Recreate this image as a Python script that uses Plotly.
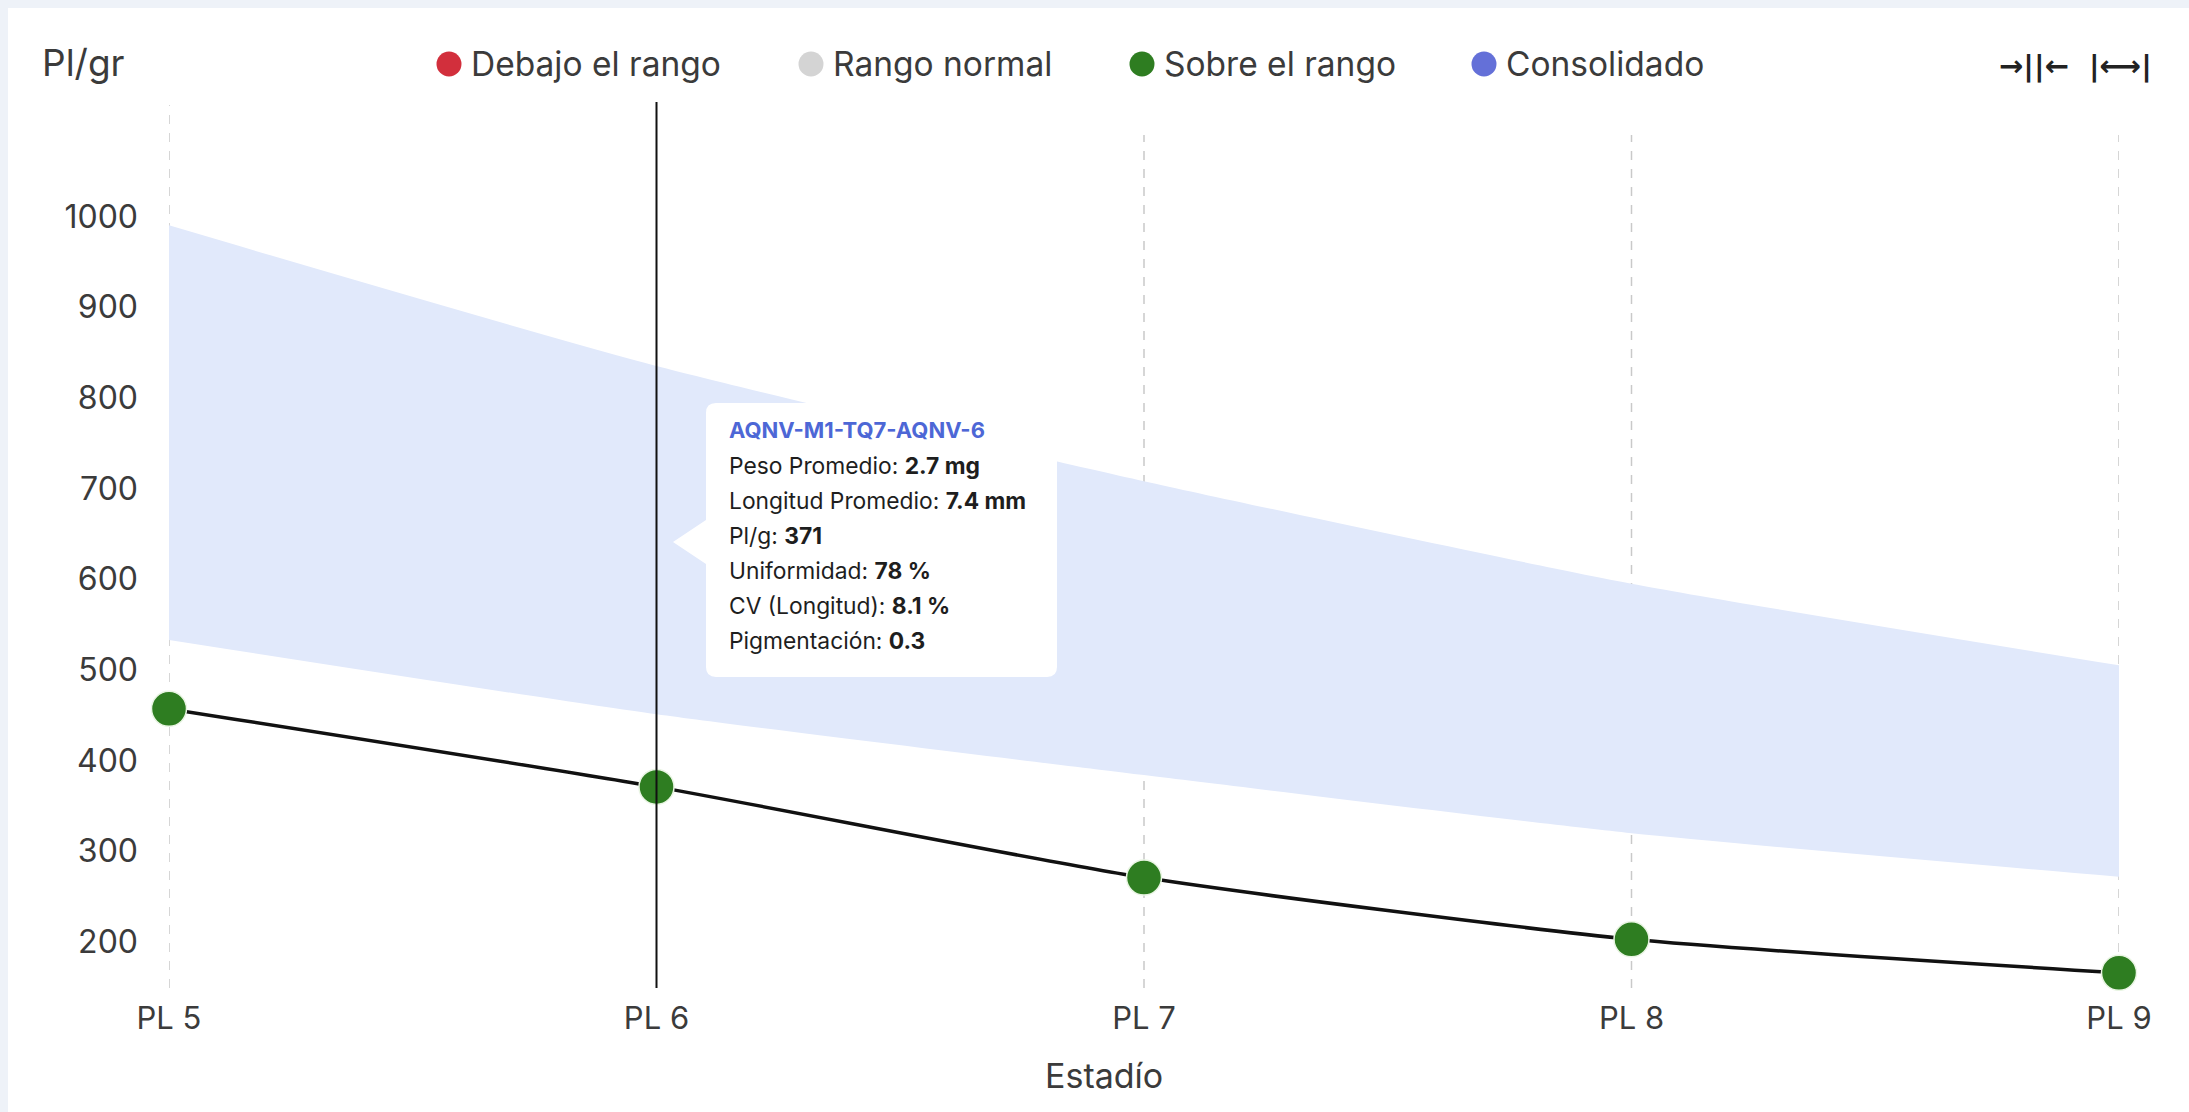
import plotly.graph_objects as go

# ---- data ----
stages = ["PL 5", "PL 6", "PL 7", "PL 8", "PL 9"]
pl_per_gram = [457, 371, 271, 203, 166]
range_upper = [990, 835, 708, 595, 505]
range_lower = [533, 451, 384, 320, 272]
y_ticks = [200, 300, 400, 500, 600, 700, 800, 900, 1000]

legend_labels = ["Debajo el rango", "Rango normal", "Sobre el rango", "Consolidado"]
legend_colors = ["#d22f3c", "#d4d4d4", "#2e7d21", "#6470d8"]

tooltip_title = "AQNV-M1-TQ7-AQNV-6"
tooltip_fields = ["Peso Promedio", "Longitud Promedio", "Pl/g", "Uniformidad",
                  "CV (Longitud)", "Pigmentación"]
tooltip_values = ["2.7 mg", "7.4 mm", "371", "78 %", "8.1 %", "0.3"]
hover_stage = "PL 6"

# ---- layout geometry (pixels) ----
W, H = 2189, 1112
L, R = 169, 2119          # plot area left / right
T, B = 102, 988           # plot area top / bottom
PW, PH = R - L, B - T


def px(x):
    return (x - L) / PW


def py(y):
    return 1 - (y - T) / PH


FONT = "Inter, 'Open Sans', sans-serif"
TXT = "#3b3b3b"

fig = go.Figure()

# normal-range band
fig.add_trace(go.Scatter(
    x=stages, y=range_lower, mode="lines",
    line=dict(width=0, shape="spline", smoothing=0.6),
    hoverinfo="skip", showlegend=False))
fig.add_trace(go.Scatter(
    x=stages, y=range_upper, mode="lines",
    line=dict(width=0, shape="spline", smoothing=0.6),
    fill="tonexty", fillcolor="#e1e9fb",
    hoverinfo="skip", showlegend=False))

# measured PL/g series
fig.add_trace(go.Scatter(
    x=stages, y=pl_per_gram, mode="lines+markers", cliponaxis=False,
    line=dict(color="#111111", width=3.5, shape="spline", smoothing=0.6),
    marker=dict(size=35, color="#2e7d21", line=dict(color="#e9f5e3", width=1.5)),
    hoverinfo="skip", showlegend=False))

shapes = []

# card background
shapes.append(dict(type="rect", xref="paper", yref="paper", layer="below",
                   x0=px(8), x1=px(W + 10), y0=py(H + 10), y1=py(8),
                   fillcolor="white", line=dict(width=0)))

# vertical dashed guides at each stage
for i, s in enumerate(stages):
    if s == hover_stage:
        continue
    top = 105 if i == 0 else 135
    shapes.append(dict(type="line", xref="x", yref="paper", layer="below",
                       x0=s, x1=s, y0=0, y1=py(top),
                       line=dict(color="#c9c9c9", width=1.5, dash="dash")))

# crosshair on hovered stage
shapes.append(dict(type="line", xref="x", yref="paper", layer="above",
                   x0=hover_stage, x1=hover_stage, y0=0, y1=1,
                   line=dict(color="#111111", width=2)))

# tooltip box with pointer
bx0, bx1, by0, by1, rad = 706, 1057, 403, 677, 10
tip_x, tip_y, tip_half = 673, 542, 22


def P(x, y):
    return f"{px(x):.5f},{py(y):.5f}"


path = (f"M {P(bx0 + rad, by0)} L {P(bx1 - rad, by0)} Q {P(bx1, by0)} {P(bx1, by0 + rad)} "
        f"L {P(bx1, by1 - rad)} Q {P(bx1, by1)} {P(bx1 - rad, by1)} "
        f"L {P(bx0 + rad, by1)} Q {P(bx0, by1)} {P(bx0, by1 - rad)} "
        f"L {P(bx0, tip_y + tip_half)} L {P(tip_x, tip_y)} L {P(bx0, tip_y - tip_half)} "
        f"L {P(bx0, by0 + rad)} Q {P(bx0, by0)} {P(bx0 + rad, by0)} Z")
shapes.append(dict(type="path", xref="paper", yref="paper", layer="above",
                   path=path, fillcolor="white", line=dict(width=0)))

# legend dots
legend_x = [449, 811, 1142, 1484]
for cx, col in zip(legend_x, legend_colors):
    shapes.append(dict(type="circle", xref="paper", yref="paper",
                       xsizemode="pixel", ysizemode="pixel",
                       xanchor=px(cx), yanchor=py(64),
                       x0=-12.5, x1=12.5, y0=-12.5, y1=12.5,
                       fillcolor=col, line=dict(width=0)))

annotations = []
for cx, lab in zip(legend_x, legend_labels):
    annotations.append(dict(xref="paper", yref="paper", x=px(cx + 20), y=py(64),
                            xanchor="left", yanchor="middle", showarrow=False,
                            text=lab, font=dict(family=FONT, size=33.5, color=TXT)))

# axis titles
annotations.append(dict(xref="paper", yref="paper", x=px(40), y=py(62),
                        xanchor="left", yanchor="middle", showarrow=False,
                        text="Pl/gr", font=dict(family=FONT, size=37, color=TXT)))
annotations.append(dict(xref="paper", yref="paper", x=px(1104), y=py(1075),
                        xanchor="center", yanchor="middle", showarrow=False,
                        text="Estadío", font=dict(family=FONT, size=34, color=TXT)))

# zoom controls
annotations.append(dict(xref="paper", yref="paper", x=px(2034), y=py(66),
                        xanchor="center", yanchor="middle", showarrow=False,
                        text="<b>→||←</b>", font=dict(family="DejaVu Sans", size=29, color="#222")))
annotations.append(dict(xref="paper", yref="paper", x=px(2120), y=py(66),
                        xanchor="center", yanchor="middle", showarrow=False,
                        text="<b>|⟷|</b>", font=dict(family="DejaVu Sans", size=29, color="#222")))

# tooltip text
ty0, tdy, tx = 430, 35, 727
annotations.append(dict(xref="paper", yref="paper", x=px(tx), y=py(ty0),
                        xanchor="left", yanchor="middle", showarrow=False,
                        text=f"<b>{tooltip_title}</b>",
                        font=dict(family=FONT, size=22, color="#4d67d6")))
for i, (f, v) in enumerate(zip(tooltip_fields, tooltip_values)):
    annotations.append(dict(xref="paper", yref="paper", x=px(tx), y=py(ty0 + tdy * (i + 1)),
                            xanchor="left", yanchor="middle", showarrow=False,
                            text=f"{f}: <b>{v}</b>",
                            font=dict(family=FONT, size=22.8, color="#1e1e1e")))

fig.update_layout(
    width=W, height=H,
    margin=dict(l=L, r=W - R, t=T, b=H - B, pad=0),
    paper_bgcolor="#eef2f8", plot_bgcolor="rgba(0,0,0,0)",
    shapes=shapes, annotations=annotations, showlegend=False,
    hovermode=False,
    xaxis=dict(type="category", range=[0, len(stages) - 1], showgrid=False,
               zeroline=False, showline=False, ticks="",
               tickfont=dict(family=FONT, size=31, color=TXT),
               ticklabelstandoff=9),
    yaxis=dict(range=[149.3, 1126], tickvals=y_ticks, showgrid=False,
               zeroline=False, showline=False, ticks="",
               tickfont=dict(family=FONT, size=32, color=TXT),
               ticklabelstandoff=30),
)

fig.write_html("out.html", config=dict(displayModeBar=False))
